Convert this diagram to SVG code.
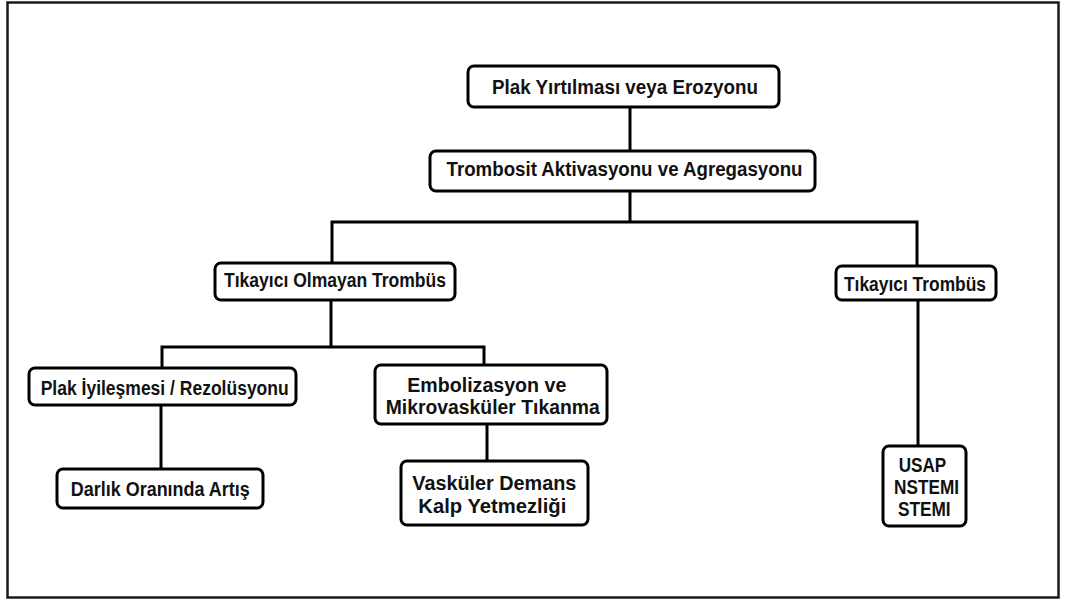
<svg xmlns="http://www.w3.org/2000/svg" width="1078" height="599" viewBox="0 0 1078 599">
<style>
.frame{fill:#fff;stroke:#1a1a1a;stroke-width:2.5}
.box{fill:#fff;stroke:#000;stroke-width:3}
.ln{fill:none;stroke:#000;stroke-width:3}
text{font-family:"Liberation Sans",Arial,sans-serif;font-weight:bold;font-size:19.5px;fill:#111;text-anchor:middle}
</style>
<rect class="frame" x="7.5" y="2.5" width="1051" height="595"/>
<g id="connectors">
<path class="ln" d="M630 107V151"/>
<path class="ln" d="M630 191V222M332 263V222H917V266"/>
<path class="ln" d="M331 300V347M162 368V347H484V365"/>
<path class="ln" d="M161 405V469"/>
<path class="ln" d="M487 424V461"/>
<path class="ln" d="M918 300V446"/>
</g>
<g id="n1"><rect class="box" x="468" y="66" width="311" height="41" rx="6"/><text x="625" y="93.5" textLength="266" lengthAdjust="spacingAndGlyphs">Plak Yırtılması veya Erozyonu</text></g>
<g id="n2"><rect class="box" x="430" y="151" width="385" height="40" rx="6"/><text x="624.5" y="175.5" textLength="356" lengthAdjust="spacingAndGlyphs">Trombosit Aktivasyonu ve Agregasyonu</text></g>
<g id="n3"><rect class="box" x="215" y="263" width="240" height="37" rx="6"/><text x="335" y="286.5" textLength="222" lengthAdjust="spacingAndGlyphs">Tıkayıcı Olmayan Trombüs</text></g>
<g id="n4"><rect class="box" x="836" y="266" width="160" height="34" rx="6"/><text x="915" y="290.5" textLength="142" lengthAdjust="spacingAndGlyphs">Tıkayıcı Trombüs</text></g>
<g id="n5"><rect class="box" x="29" y="368" width="267" height="37" rx="6"/><text x="164.7" y="394.5" textLength="248" lengthAdjust="spacingAndGlyphs">Plak İyileşmesi / Rezolüsyonu</text></g>
<g id="n6"><rect class="box" x="375" y="365" width="232" height="59" rx="6"/><text x="486.8" y="392" textLength="159" lengthAdjust="spacingAndGlyphs">Embolizasyon ve</text><text x="492.7" y="413.5" textLength="214" lengthAdjust="spacingAndGlyphs">Mikrovasküler Tıkanma</text></g>
<g id="n7"><rect class="box" x="57" y="469" width="206" height="39" rx="6"/><text x="160.3" y="495.5" textLength="179" lengthAdjust="spacingAndGlyphs">Darlık Oranında Artış</text></g>
<g id="n8"><rect class="box" x="401" y="461" width="187" height="64" rx="6"/><text x="494.3" y="489.5" textLength="164" lengthAdjust="spacingAndGlyphs">Vasküler Demans</text><text x="492.3" y="513" textLength="148" lengthAdjust="spacingAndGlyphs">Kalp Yetmezliği</text></g>
<g id="n9"><rect class="box" x="883" y="446" width="83" height="80" rx="6"/><text x="922.5" y="472" textLength="47.6" lengthAdjust="spacingAndGlyphs">USAP</text><text x="926.5" y="493.5" textLength="65" lengthAdjust="spacingAndGlyphs">NSTEMI</text><text x="924.3" y="515.5" textLength="52.7" lengthAdjust="spacingAndGlyphs">STEMI</text></g>
</svg>
